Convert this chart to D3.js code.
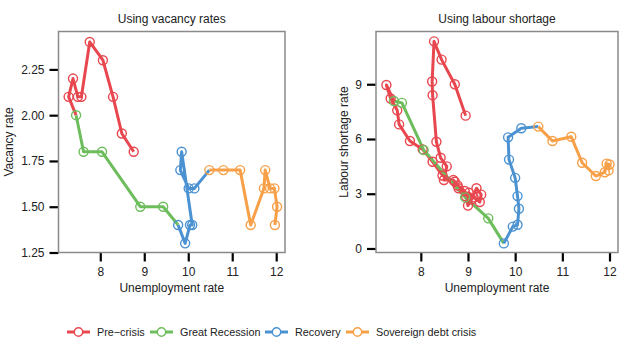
<!DOCTYPE html>
<html>
<head>
<meta charset="utf-8">
<script src="https://cdn.jsdelivr.net/npm/d3@7"></script>
<style>
  body { margin: 0; background: #fff; }
  text { font-family: "Liberation Sans", Arial, sans-serif; }
</style>
</head>
<body>
<div id="container"></div>
<script>
/* CONSTANTS AND GLOBALS */
const width = 624, height = 351;

const phases = ["Pre\u2212crisis", "Great Recession", "Recovery", "Sovereign debt crisis"];
const phaseColors = ["#e8474f", "#6dbd5c", "#4b92d2", "#f7a048"];

// [unemployment rate, vacancy rate]
const vacPre = [[8.76, 1.80], [8.49, 1.90], [8.29, 2.10], [8.06, 2.30], [7.76, 2.40],
  [7.57, 2.10], [7.49, 2.10], [7.38, 2.20], [7.28, 2.10]];
const vacGreat = [[7.45, 2.00], [7.62, 1.80], [8.04, 1.80], [8.91, 1.50], [9.43, 1.50]];
const vacRecovery = [[9.77, 1.40], [9.93, 1.30], [10.04, 1.40], [10.09, 1.40], [9.85, 1.80],
  [9.82, 1.70], [10.01, 1.60], [10.14, 1.60]];
const vacSovereign = [[10.48, 1.70], [10.80, 1.70], [11.18, 1.70], [11.42, 1.40], [11.72, 1.60],
  [11.75, 1.70], [11.86, 1.60], [11.96, 1.60], [12.02, 1.50], [11.97, 1.40]];

// [unemployment rate, labour shortage rate]
const labPre = [[8.95, 7.28], [8.72, 9.00], [8.44, 10.35], [8.28, 11.35], [8.24, 9.15],
  [8.25, 8.40], [8.33, 5.85], [8.42, 4.97], [8.55, 4.50], [8.49, 3.75], [8.69, 3.75],
  [8.78, 3.45], [8.93, 3.15], [9.00, 2.35], [9.08, 2.70], [9.18, 3.30], [9.28, 2.95],
  [9.25, 2.55], [9.12, 2.80], [9.02, 3.05], [8.96, 2.85], [8.80, 3.30], [8.72, 3.66],
  [8.46, 4.00], [8.25, 4.75], [8.04, 5.43], [7.77, 5.89], [7.54, 6.80], [7.50, 7.57],
  [7.36, 8.22], [7.27, 8.96]];
const labGreat = [[7.43, 8.08], [7.60, 7.98], [8.06, 5.40], [8.94, 2.80], [9.43, 1.65]];
const labRecovery = [[9.76, 0.28], [9.95, 1.20], [10.05, 1.30], [10.08, 2.18], [10.05, 2.87],
  [10.00, 3.87], [9.87, 4.87], [9.85, 6.09], [10.13, 6.59]];
const labSovereign = [[10.49, 6.68], [10.79, 5.89], [11.19, 6.12], [11.42, 4.70], [11.71, 3.97],
  [11.90, 4.18], [11.94, 4.65], [12.00, 4.60], [11.98, 4.28]];

const vacTicks = [1.25, 1.50, 1.75, 2.00, 2.25];
const labTicks = [0, 3, 6, 9];
const unempTicks = [8, 9, 10, 11, 12];

const panels = [
  { title: "Using vacancy rates", ylabel: "Vacancy rate", series: [vacPre, vacGreat, vacRecovery, vacSovereign],
    x0: 58.5, x1: 285, xdom: [7.05, 12.2], ydom: [1.25, 2.457], yticks: vacTicks, yfmt: d3.format(".2f"), ylabX: 9 },
  { title: "Using labour shortage", ylabel: "Labour shortage rate", series: [labPre, labGreat, labRecovery, labSovereign],
    x0: 376, x1: 618, xdom: [7.05, 12.18], ydom: [-0.22, 11.89], yticks: labTicks, yfmt: d3.format("d"), ylabX: 344 }
];
const plotTop = 31.5, plotBottom = 252.5;

const svg = d3.select("#container").append("svg")
  .attr("width", width)
  .attr("height", height);

panels.forEach(p => {
  const xScale = d3.scaleLinear().domain(p.xdom).range([p.x0, p.x1]);
  const yScale = d3.scaleLinear().domain(p.ydom).range([plotBottom, plotTop]);
  const g = svg.append("g");

  // ticks
  const xAxis = g.append("g")
    .attr("transform", `translate(0, ${plotBottom})`)
    .call(d3.axisBottom(xScale).tickValues(unempTicks).tickSize(9).tickPadding(6).tickFormat(d3.format("d")));
  const yAxis = g.append("g")
    .attr("transform", `translate(${p.x0}, 0)`)
    .call(d3.axisLeft(yScale).tickValues(p.yticks).tickSize(9).tickPadding(5).tickFormat(p.yfmt));
  [xAxis, yAxis].forEach(a => {
    a.select(".domain").remove();
    a.selectAll("line").attr("stroke", "#000").attr("stroke-width", 2.2);
    a.selectAll("text").attr("font-size", 12).attr("fill", "#222")
      .style("font-family", "'Liberation Sans', Arial, sans-serif");
  });

  // border
  g.append("rect")
    .attr("x", p.x0).attr("y", plotTop)
    .attr("width", p.x1 - p.x0).attr("height", plotBottom - plotTop)
    .attr("fill", "none").attr("stroke", "#8a8a8a").attr("stroke-width", 1.5);

  // title and labels
  g.append("text").attr("x", (p.x0 + p.x1) / 2).attr("y", 23)
    .attr("text-anchor", "middle").attr("font-size", 12).attr("fill", "#222").text(p.title);
  g.append("text").attr("x", (p.x0 + p.x1) / 2).attr("y", 292)
    .attr("text-anchor", "middle").attr("font-size", 12).attr("fill", "#222").text("Unemployment rate");
  g.append("text")
    .attr("transform", `translate(${p.ylabX}, ${(plotTop + plotBottom) / 2}) rotate(-90)`)
    .attr("text-anchor", "middle").attr("dy", "0.35em").attr("font-size", 12).attr("fill", "#222").text(p.ylabel);

  const line = d3.line().x(d => xScale(d[0])).y(d => yScale(d[1]));

  // each phase line runs on to the first point of the next phase
  p.series.forEach((s, i) => {
    const pts = i < p.series.length - 1 ? s.concat([p.series[i + 1][0]]) : s;
    g.append("path")
      .datum(pts)
      .attr("d", line)
      .attr("fill", "none")
      .attr("stroke", phaseColors[i])
      .attr("stroke-width", 3)
      .attr("stroke-linejoin", "round");
  });
  p.series.forEach((s, i) => {
    g.selectAll(null)
      .data(s)
      .join("circle")
      .attr("cx", d => xScale(d[0]))
      .attr("cy", d => yScale(d[1]))
      .attr("r", 4.5)
      .attr("fill", "none")
      .attr("stroke", phaseColors[i])
      .attr("stroke-width", 1.4);
  });
});

/* LEGEND */
const legendX = [67, 150, 265, 346];
const legend = svg.append("g").attr("transform", "translate(0, 332)");
phases.forEach((name, i) => {
  const item = legend.append("g").attr("transform", `translate(${legendX[i]}, 0)`);
  item.append("line").attr("x1", 0).attr("x2", 23).attr("y1", 0).attr("y2", 0)
    .attr("stroke", phaseColors[i]).attr("stroke-width", 3);
  item.append("circle").attr("cx", 11.5).attr("cy", 0).attr("r", 4.2)
    .attr("fill", "#fff").attr("stroke", phaseColors[i]).attr("stroke-width", 1.4);
  item.append("text").attr("x", 30).attr("dy", "0.35em")
    .attr("font-size", 10.8).attr("fill", "#222").text(name);
});
</script>
</body>
</html>
